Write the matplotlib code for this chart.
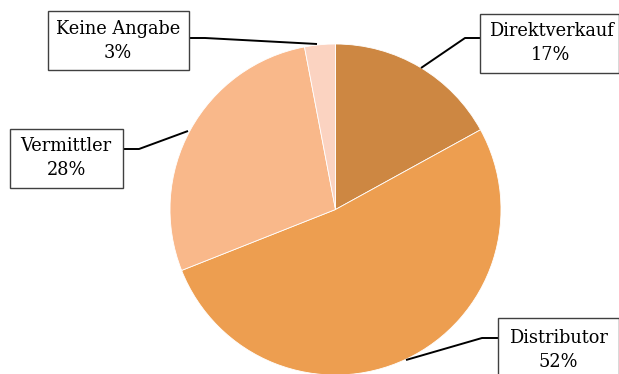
import matplotlib
matplotlib.use("Agg")
import matplotlib.pyplot as plt
from matplotlib.patches import Rectangle

categories = ["Direktverkauf", "Distributor", "Vermittler", "Keine Angabe"]
shares = [17, 52, 28, 3]
colors = ["#CD8742", "#ED9E50", "#F9B88A", "#FBD3C1"]

W, H = 619, 374
fig = plt.figure(figsize=(W / 100, H / 100), dpi=100)
ax = fig.add_axes([0, 0, 1, 1])
ax.set_xlim(0, W)
ax.set_ylim(0, H)
ax.set_aspect("equal")
ax.axis("off")

def Y(y):
    return H - y

cx, cy, r = 335.5, 209.5, 165.5
ax.pie(shares, colors=colors, startangle=90, counterclock=False,
       center=(cx, Y(cy)), radius=r,
       wedgeprops=dict(edgecolor="white", linewidth=0.6))
ax.set_xlim(0, W)
ax.set_ylim(0, H)

# label boxes (x0, y0, x1, y1 in pixel coords) and leader lines
boxes = {
    "Direktverkauf": (480, 14, 618.5, 73),
    "Distributor": (498, 318, 618.5, 380),
    "Vermittler": (10, 129, 123, 188),
    "Keine Angabe": (48, 11, 189, 70),
}
label_centers = {
    "Direktverkauf": (551, 43),
    "Distributor": (558, 350),
    "Vermittler": (66, 158),
    "Keine Angabe": (118, 41),
}
leaders = {
    "Direktverkauf": [(480, 38), (465, 38), (421, 68)],
    "Distributor": [(498, 338), (482, 338), (406, 360)],
    "Vermittler": [(123, 149), (139, 149), (188, 131)],
    "Keine Angabe": [(189, 38), (205, 38), (317, 44)],
}

for cat, val in zip(categories, shares):
    x0, y0, x1, y1 = boxes[cat]
    ax.add_patch(Rectangle((x0, Y(y1)), x1 - x0, y1 - y0, facecolor="white",
                           edgecolor="#404040", linewidth=1.0, zorder=3,
                           clip_on=False))
    tx, ty = label_centers[cat]
    ax.text(tx, Y(ty), f"{cat}\n{val}%", ha="center", va="center",
            fontsize=12.8, family="DejaVu Serif", linespacing=1.4, zorder=4)
    pts = leaders[cat]
    ax.plot([p[0] for p in pts], [Y(p[1]) for p in pts], color="black",
            linewidth=1.4, zorder=2, solid_capstyle="butt")

fig.savefig("out.png", dpi=100)
